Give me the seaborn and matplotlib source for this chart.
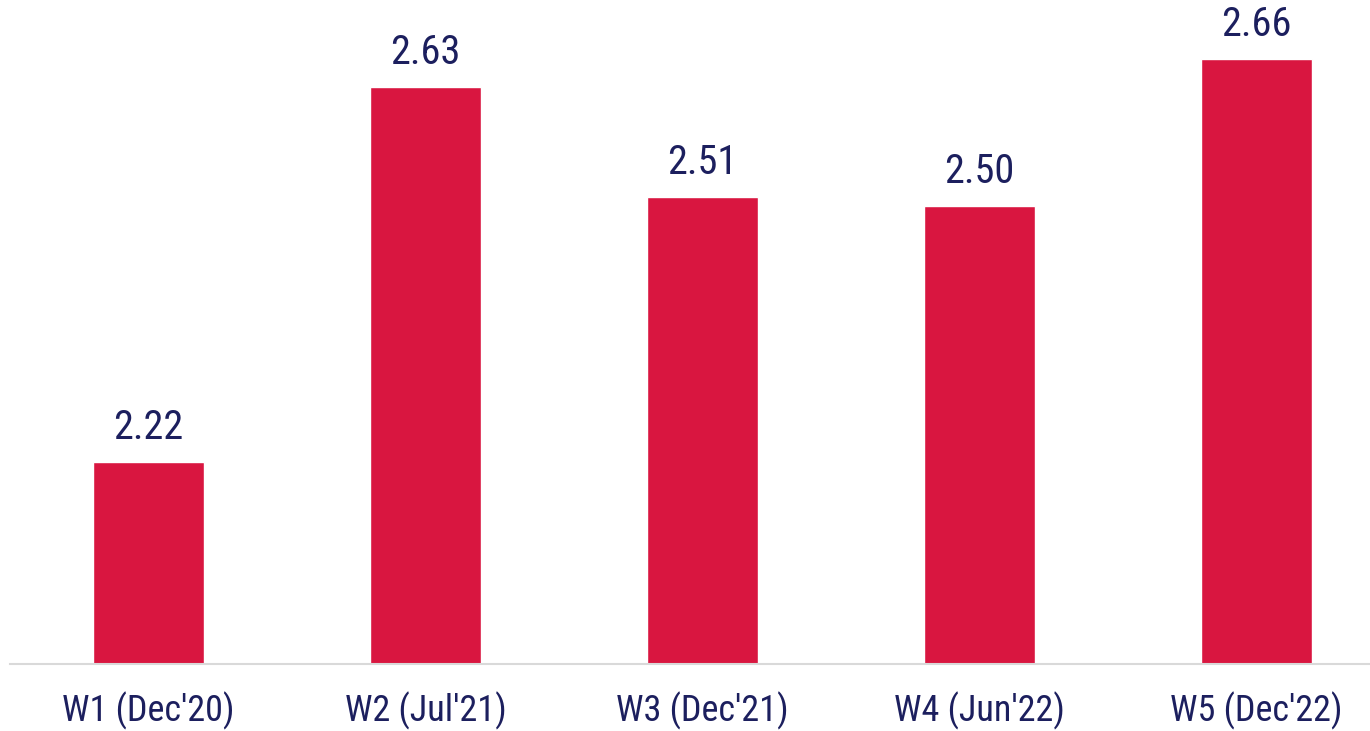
import matplotlib
matplotlib.use("Agg")
import matplotlib.pyplot as plt
import seaborn as sns
import pandas as pd

waves = ["W1 (Dec'20)", "W2 (Jul'21)", "W3 (Dec'21)", "W4 (Jun'22)", "W5 (Dec'22)"]
scores = [2.22, 2.63, 2.51, 2.50, 2.66]

bar_color = "#d91640"
text_color = "#1c1f5e"

sns.set_style("white")
plt.rcParams['font.family'] = ['Roboto Condensed', 'Liberation Sans Narrow',
                               'Archivo Narrow', 'DejaVu Sans']

df = pd.DataFrame({"wave": waves, "score": scores})

fig = plt.figure(figsize=(13.7, 7.31), dpi=100)
ax = fig.add_axes([10 / 1370, 1 - 664 / 731, 1360 / 1370, 664 / 731])
sns.barplot(data=df, x="wave", y="score", color=bar_color, width=0.4,
            saturation=1, ax=ax)

ax.set_ylim(2.0, 2.7246)
ax.set_xlim(-0.5, 4.41)
for i, v in enumerate(scores):
    ax.annotate(f"{v:.2f}", (i, v), xytext=(0, 16.5), textcoords="offset points",
                ha="center", va="baseline", fontsize=29, color=text_color)

ax.set_xlabel("")
ax.set_ylabel("")
ax.set_yticks([])
ax.tick_params(axis="x", length=0, pad=20, labelsize=26, labelcolor=text_color)
for s in ["top", "right", "left"]:
    ax.spines[s].set_visible(False)
ax.spines["bottom"].set_color("#d9d9d9")
ax.spines["bottom"].set_linewidth(1.5)

fig.savefig("out.png", dpi=100)
